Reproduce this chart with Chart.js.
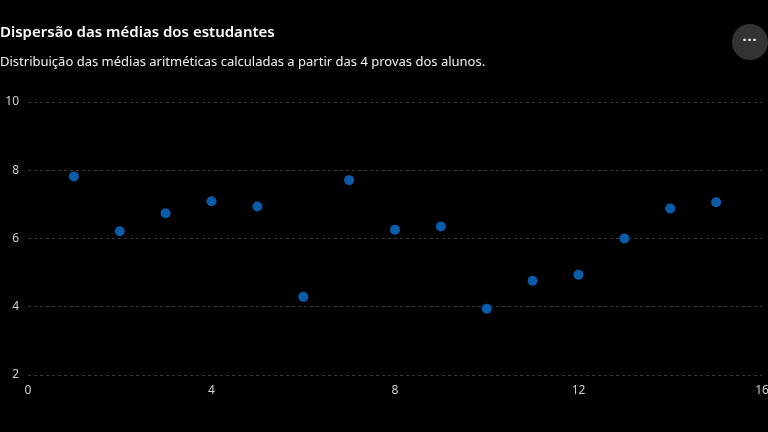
<!DOCTYPE html>
<html>
<head>
<meta charset="utf-8">
<script src="https://cdn.jsdelivr.net/npm/chart.js@4"></script>
<style>
  html, body { margin: 0; padding: 0; background: #000; }
  body { width: 768px; height: 432px; position: relative; overflow: hidden; font-family: "Segoe UI", "Noto Sans", sans-serif; }
  #title { position: absolute; left: 0; top: 21px; color: #fff; font-size: 15px; font-weight: 600; white-space: nowrap; }
  #subtitle { position: absolute; left: 0; top: 52px; color: #f2f2f2; font-size: 13px; white-space: nowrap; }
  #more { position: absolute; left: 732px; top: 24px; width: 36px; height: 36px; border-radius: 50%; background: #333; color: #fff; text-align: center; line-height: 32px; font-size: 14px; font-weight: bold; letter-spacing: 1px; }
  #wrap { position: absolute; left: 0; top: 0; width: 768px; height: 432px; }
</style>
</head>
<body>
<div id="wrap"><canvas id="chart"></canvas></div>
<div id="title">Dispersão das médias dos estudantes</div>
<div id="subtitle">Distribuição das médias aritméticas calculadas a partir das 4 provas dos alunos.</div>
<div id="more">···</div>
<script>
// DATA
const students = [1, 2, 3, 4, 5, 6, 7, 8, 9, 10, 11, 12, 13, 14, 15];
const averages = [7.82, 6.21, 6.74, 7.09, 6.94, 4.29, 7.71, 6.26, 6.35, 3.94, 4.76, 4.94, 6.0, 6.88, 7.06];
const xTicks = [0, 4, 8, 12, 16];
const yTicks = [2, 4, 6, 8, 10];

const tickColor = "#cfcfcf";
const gridColor = "rgba(255,255,255,0.22)";

const points = students.map((s, i) => ({ x: s, y: averages[i] }));

new Chart(document.getElementById("chart"), {
    type: "scatter",
    data: {
        datasets: [{
            label: "Média",
            data: points,
            backgroundColor: "#0a5cab",
            borderWidth: 0,
            pointRadius: 5,
            pointHoverRadius: 5
        }]
    },
    options: {
        responsive: true,
        maintainAspectRatio: false,
        animation: false,
        layout: { padding: { top: 102, right: 6, left: 0, bottom: 27 } },
        plugins: { legend: { display: false }, tooltip: { enabled: false } },
        scales: {
            x: {
                type: "linear",
                min: xTicks[0],
                max: xTicks[xTicks.length - 1],
                afterBuildTicks: s => { s.ticks = xTicks.map(v => ({ value: v })); },
                afterFit: s => { s.height = 30; s.paddingRight = 0; s.paddingLeft = 0; },
                grid: { display: false, drawTicks: false },
                border: { display: false },
                ticks: { color: tickColor, padding: 8, font: { size: 12, family: "'Segoe UI', 'Noto Sans', sans-serif" }, maxRotation: 0 }
            },
            y: {
                min: yTicks[0],
                max: yTicks[yTicks.length - 1],
                afterBuildTicks: s => { s.ticks = yTicks.map(v => ({ value: v })); },
                afterFit: s => { s.width = 28; s.paddingTop = 0; s.paddingBottom = 0; },
                grid: { color: gridColor, drawTicks: false },
                border: { display: false, dash: [3, 3] },
                ticks: { color: tickColor, padding: 9, font: { size: 12, family: "'Segoe UI', 'Noto Sans', sans-serif" } }
            }
        }
    }
});
</script>
</body>
</html>
